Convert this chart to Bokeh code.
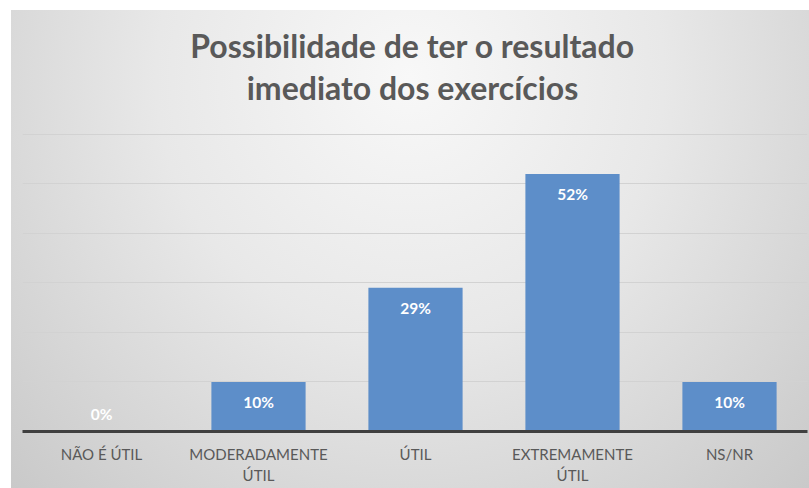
from bokeh.plotting import figure
from bokeh.models import Range1d, FixedTicker, Label, InlineStyleSheet, ColumnDataSource
from bokeh.core.properties import value
from bokeh.embed import file_html
from bokeh.resources import INLINE

# ---- data ----
categories = ["NÃO É ÚTIL", "MODERADAMENTE\nÚTIL", "ÚTIL", "EXTREMAMENTE\nÚTIL", "NS/NR"]
percentages = [0, 10, 29, 52, 10]
grid_ticks = [0, 10, 20, 30, 40, 50, 60]
title_lines = ["Possibilidade de ter o resultado", "imediato dos exercícios"]

xs = list(range(len(categories)))
labels = [f"{v}%" for v in percentages]
offsets = [20 if v > 0 else -18 for v in percentages]

source = ColumnDataSource(dict(x=xs, top=percentages, label=labels, off=offsets))

# frame extends upward (headroom above the 60% gridline) to hold the title
p = figure(frame_width=785, frame_height=421, output_backend="svg", toolbar_location=None,
           x_range=Range1d(-0.5 - 0.5 / 157, 4.5 - 0.5 / 157), y_range=Range1d(0, 85),
           y_axis_location=None,
           min_border_left=11, min_border_right=2, min_border_top=0, min_border_bottom=57,
           background_fill_color=None, border_fill_color=None, outline_line_color=None)
p.margin = (10, 0, 0, 11)

p.stylesheets = [InlineStyleSheet(css=":host { background: radial-gradient(ellipse farthest-corner at 50% 14%, #f8f8f8 0%, #e8e8e8 45%, #c9c9c9 100%); }")]

p.xgrid.visible = False
p.ygrid.ticker = FixedTicker(ticks=grid_ticks)
p.ygrid.grid_line_color = "#d2d2d2"
p.ygrid.grid_line_width = 1

ax = p.xaxis[0]
ax.ticker = FixedTicker(ticks=xs)
ax.major_label_overrides = {i: c for i, c in enumerate(categories)}
ax.major_tick_line_color = None
ax.minor_tick_line_color = None
ax.axis_line_color = "#404040"
ax.axis_line_width = 3
ax.major_label_text_font = "Lato"
ax.major_label_text_font_size = "15px"
ax.major_label_text_color = "#595959"
ax.major_label_standoff = 7

p.vbar(x="x", top="top", bottom=0, width=0.6, source=source,
       fill_color="#5D8EC9", line_color=None)

p.text(x="x", y="top", text="label", y_offset="off", source=source,
       text_align="center", text_baseline="middle", text_color="white",
       text_font=value("Lato"), text_font_style="bold", text_font_size="15.5px")

# title lines, in screen pixels from the frame's lower-left corner
for txt, base in zip(title_lines, [386, 344]):
    p.add_layout(Label(x=390, y=base, x_units="screen", y_units="screen", text=txt,
                       text_align="center", text_baseline="alphabetic",
                       text_font="Lato", text_font_size="32px", text_font_style="bold",
                       text_color="#595959"))

open("out.html", "w").write(file_html(p, INLINE))
